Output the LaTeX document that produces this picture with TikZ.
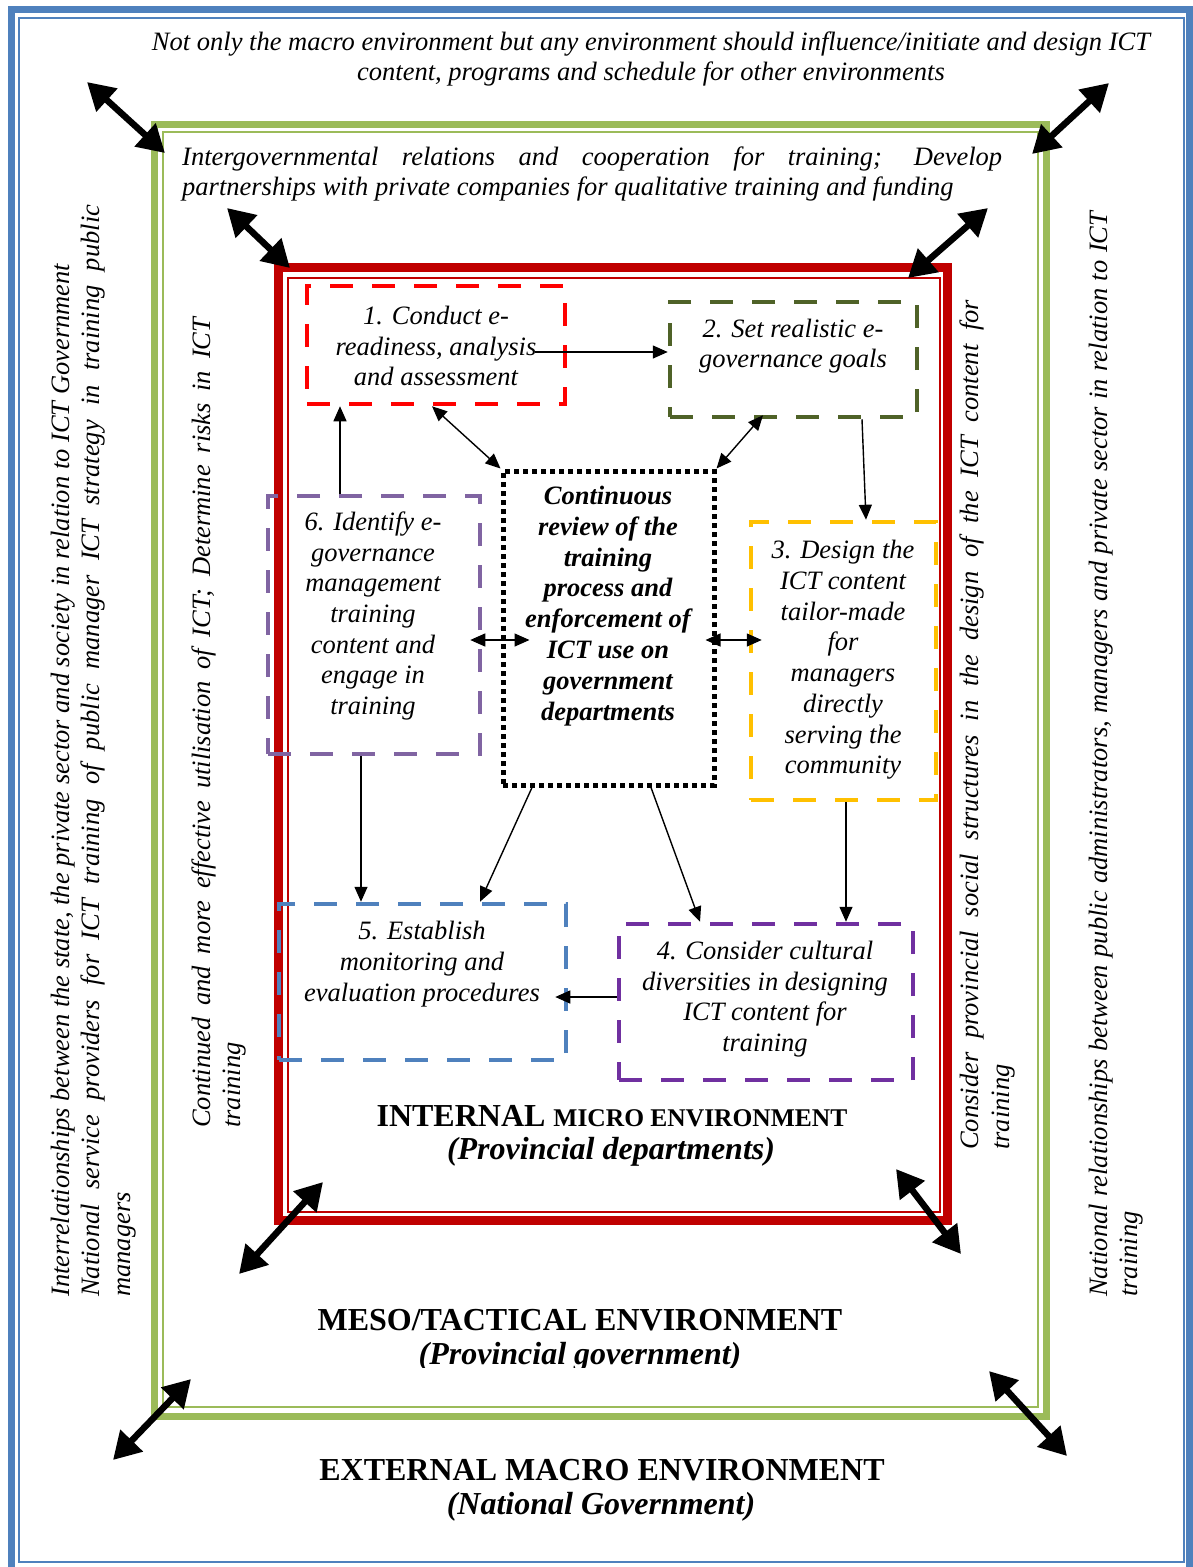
\documentclass[tikz,border=0pt]{standalone}
\usepackage{fontspec}
\setmainfont{Liberation Serif}[
  UprightFont    = {Liberation Serif},
  BoldFont       = {Liberation Serif Bold},
  ItalicFont     = {Liberation Serif Italic},
  BoldItalicFont = {Liberation Serif Bold Italic}]
\usetikzlibrary{arrows.meta,calc}

\definecolor{macroblue}{HTML}{4F81BD}
\definecolor{mesogreen}{HTML}{9BBB59}
\definecolor{microred}{HTML}{C00000}
\definecolor{stepred}{HTML}{FF0000}
\definecolor{stepolive}{HTML}{4F6228}
\definecolor{stepgold}{HTML}{FFC000}
\definecolor{stepviolet}{HTML}{7030A0}
\definecolor{stepblue}{HTML}{4F81BD}
\definecolor{steplilac}{HTML}{8064A2}

\begin{document}
\begin{tikzpicture}[x=1pt,y=-1pt,
  bodyfont/.style={font=\fontsize{26.5}{30.7}\selectfont\itshape},
  boxtext/.style={bodyfont, align=center, inner sep=0pt},
  sidetext/.style={bodyfont, align=left, inner sep=0pt, rotate=90, anchor=west},
  envtitle/.style={font=\fontsize{32}{36}\selectfont\bfseries, inner sep=0pt},
  envsub/.style={font=\fontsize{32}{36}\selectfont\bfseries\itshape, inner sep=0pt},
  stepbox/.style={rectangle, line width=4.5pt, dash pattern=on 23pt off 19pt, inner sep=0pt},
  hubbox/.style={rectangle, line width=5pt, dash pattern=on 5pt off 4pt, inner sep=0pt},
  link/.style={line width=1.4pt, -{Triangle[length=15pt,width=13pt]}},
  dlink/.style={line width=1.4pt, {Triangle[length=15pt,width=13pt]}-{Triangle[length=15pt,width=13pt]}},
  bigarrow/.style={line width=6.5pt, {Triangle[length=27pt,width=30pt]}-{Triangle[length=27pt,width=30pt]}},
]
\useasboundingbox (0,0) rectangle (1192,1567);
\fill[white] (0,0) rectangle (1192,1567);

% ---- environment frames (double lines) ----
\draw[macroblue, line width=7pt] (11,9) rectangle (1189,1570);
\draw[macroblue, line width=2pt] (19,18) rectangle (1184,1562);

\draw[mesogreen, line width=7pt] (154.5,124.5) rectangle (1046.5,1416);
\draw[mesogreen, line width=2pt] (163,132) rectangle (1038,1407);

\draw[microred, line width=9pt] (278,267.5) rectangle (947.5,1220);
\draw[microred, line width=2pt] (287.5,278) rectangle (940,1212);

% ---- texts along the frames ----
\node[boxtext] (macrotop) at (651,59)
  {Not only the macro environment but any environment should influence/initiate and design ICT\\
   content, programs and schedule for other environments};

\node[bodyfont, align=left, inner sep=0pt, anchor=west] (mesotop) at (182,174)
  {\makebox[820pt][s]{Intergovernmental relations and cooperation for training; Develop}\\
   partnerships with private companies for qualitative training and funding};

\node[sidetext] (macroleft) at (93.5,1297)
  {Interrelationships between the state, the private sector and society in relation to ICT Government\\
   \makebox[1092pt][s]{National service providers for ICT training of public manager ICT strategy in training public}\\
   managers};

\node[sidetext] (mesoleft) at (219,1128)
  {\makebox[810pt][s]{Continued and more effective utilisation of ICT; Determine risks in ICT}\\
   training};

\node[sidetext] (mesoright) at (987.5,1150)
  {\makebox[850pt][s]{Consider provincial social structures in the design of the ICT content for}\\
   training};

\node[sidetext] (macroright) at (1116,1297)
  {\makebox[1085pt][s]{National relationships between public administrators, managers and private sector in relation to ICT}\\
   training};

% ---- environment titles ----
\node[envtitle] (microtitle) at (612,1116)
  {INTERNAL {\fontsize{25.5}{30}\selectfont MICRO ENVIRONMENT}};
\node[envsub] (microsub) at (611,1152) {(Provincial departments)};

\node[envtitle] (mesotitle) at (580,1320) {MESO/TACTICAL ENVIRONMENT};
\begin{scope}
  \clip (300,1330) rectangle (900,1367);
  \node[envsub] (mesosub) at (580,1357) {(Provincial government)};
\end{scope}

\node[envtitle] (macrotitle) at (602,1470) {EXTERNAL MACRO ENVIRONMENT};
\node[envsub] (macrosub) at (601,1507) {(National Government)};

% ---- step boxes ----
\node[stepbox, draw=stepred,    minimum width=258pt, minimum height=118pt] (b1) at (436,345) {};
\node[stepbox, draw=stepolive,  minimum width=247pt, minimum height=115pt] (b2) at (793.5,359.5) {};
\node[stepbox, draw=stepgold,   minimum width=185pt, minimum height=278pt] (b3) at (843.5,661) {};
\node[stepbox, draw=stepviolet, minimum width=294pt, minimum height=156pt] (b4) at (766,1002) {};
\node[stepbox, draw=stepblue,   minimum width=287pt, minimum height=156pt] (b5) at (422.5,982) {};
\node[stepbox, draw=steplilac,  minimum width=212pt, minimum height=258pt] (b6) at (374,625) {};
\node[hubbox,  draw=black,      minimum width=211pt, minimum height=314pt] (hub) at (608.5,628) {};

\node[boxtext] (t1) at (436,346) {1. Conduct e-\\readiness, analysis\\and assessment};
\node[boxtext] (t2) at (793,346) {2. Set realistic e-\\governance goals};
\node[boxtext] (t3) at (843,660) {3. Design the\\ICT content\\tailor-made\\for\\managers\\directly\\serving the\\community};
\node[boxtext] (t4) at (765,999) {4. Consider cultural\\diversities in designing\\ICT content for\\training};
\node[boxtext] (t5) at (422,964) {5. Establish\\monitoring and\\evaluation procedures};
\node[boxtext] (t6) at (373,616) {6. Identify e-\\governance\\management\\training\\content and\\engage in\\training};
\node[boxtext, font=\fontsize{26.5}{30.9}\selectfont\bfseries\itshape] (thub) at (608,606)
  {Continuous\\review of the\\training\\process and\\enforcement of\\ICT use on\\government\\departments};

% ---- process links ----
\coordinate (a12) at (535,352);
\draw[link] (a12) -- (a12 -| b2.west);
\draw[link] ([xshift=68.5pt]b2.south) -- ([xshift=22.5pt]b3.north);
\draw[link] ([xshift=2.5pt]b3.south) -- ([xshift=80pt]b4.north);
\draw[link] ([yshift=5pt]b4.west) -- ([xshift=-13pt,yshift=-15pt]b5.east);
\draw[link] ([xshift=-13pt]b6.south) -- ([xshift=-61.5pt]b5.north);
\draw[link] ([xshift=-34pt]b6.north) -- ([xshift=-96pt]b1.south);

\draw[dlink] ([xshift=-4pt]b1.south) -- (hub.north west);
\draw[dlink] ([xshift=-30.5pt,yshift=4pt]b2.south) -- (hub.north east);
\draw[dlink] ([xshift=-12pt,yshift=-15pt]b6.east) -- ([xshift=29pt,yshift=-12pt]hub.west);
\draw[dlink] ([xshift=-11pt,yshift=-12pt]hub.east) -- ([xshift=13pt,yshift=21pt]b3.west);
\draw[link] ([xshift=-76.5pt]hub.south) -- ([xshift=57.5pt]b5.north);
\draw[link] ([xshift=42.5pt]hub.south) -- ([xshift=-66pt]b4.north);

% ---- interaction arrows between environments ----
\coordinate (tlo1) at (87,82);    \coordinate (tlo2) at (165,153);
\coordinate (tli1) at (227,208);  \coordinate (tli2) at (290,268);
\coordinate (tro1) at (1109,83);  \coordinate (tro2) at (1032,154);
\coordinate (tri1) at (988,208);  \coordinate (tri2) at (908,278);
\coordinate (bli1) at (323,1182); \coordinate (bli2) at (239,1274);
\coordinate (blo1) at (191,1379); \coordinate (blo2) at (113,1460);
\coordinate (bri1) at (896,1169); \coordinate (bri2) at (961,1254);
\coordinate (bro1) at (989,1371); \coordinate (bro2) at (1067,1456);

\draw[bigarrow] (tlo1) -- (tlo2);
\draw[bigarrow] (tli1) -- (tli2);
\draw[bigarrow] (tro1) -- (tro2);
\draw[bigarrow] (tri1) -- (tri2);
\draw[bigarrow] (bli1) -- (bli2);
\draw[bigarrow] (blo1) -- (blo2);
\draw[bigarrow] (bri1) -- (bri2);
\draw[bigarrow] (bro1) -- (bro2);
\end{tikzpicture}
\end{document}
